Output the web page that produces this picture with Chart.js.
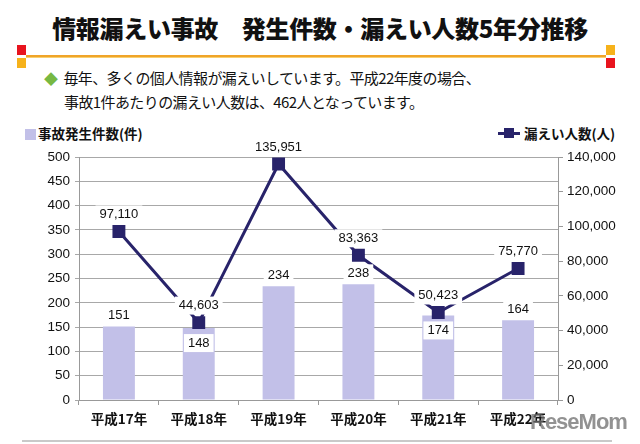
<!DOCTYPE html>
<html lang="ja">
<head>
<meta charset="UTF-8">
<title>情報漏えい事故 発生件数・漏えい人数5年分推移</title>
<script src="https://cdn.jsdelivr.net/npm/chart.js@4.4.0/dist/chart.umd.min.js"></script>
<style>
    body { margin: 0; width: 640px; height: 444px; background: #fff; position: relative; overflow: hidden;
           font-family: "Noto Sans CJK JP", "Liberation Sans", sans-serif; color: #111; }
    .title { position: absolute; left: 0; width: 640px; top: 12px; text-align: center; font-size: 24px;
             font-weight: 900; line-height: 32px; letter-spacing: -0.3px; }
    .deco { position: absolute; }
    .sq { position: absolute; width: 9px; height: 10px; }
    .lead { position: absolute; left: 44px; top: 66px; font-size: 15px; line-height: 24px; letter-spacing: -0.6px; }
    .lead .dia { color: #77b843; font-size: 14px; margin-right: 6px; }
    .lead .l2 { padding-left: 20px; }
    .legend { position: absolute; top: 124px; font-size: 13.5px; font-weight: bold; line-height: 18px; }
    .legend .box { display: inline-block; width: 11px; height: 11px; background: #c2c0e8; vertical-align: -1px; margin-right: 2px; }
    .legend .ln { display: inline-block; position: relative; width: 22px; height: 3px; background: #28236a; vertical-align: 4px; margin-right: 4px; }
    .legend .ln i { position: absolute; left: 6px; top: -4px; width: 10px; height: 10px; background: #28236a; }
    #wrap { position: absolute; left: 0; top: 120px; width: 640px; height: 324px; }
    .bottom { position: absolute; left: 22px; width: 590px; top: 440px; height: 2px; background: #c9c9c9; }
    .mark { position: absolute; left: 530px; top: 409px; font-family: "Liberation Sans", sans-serif; font-weight: bold;
            font-size: 22px; color: rgba(110,110,110,0.75); letter-spacing: -1px; }
</style>
</head>
<body>
<div class="title">情報漏えい事故　発生件数・漏えい人数5年分推移</div>
<div class="sq" style="left:17px;top:45px;background:#e8141e"></div>
<div class="sq" style="left:17px;top:58px;background:#f6b21b"></div>
<div class="sq" style="left:606px;top:45px;background:#f6b21b"></div>
<div class="sq" style="left:606px;top:58px;background:#e8141e"></div>
<div class="deco" style="left:26px;top:55px;width:580px;height:2px;background:#f0a428"></div>
<div class="deco" style="left:26px;top:57px;width:580px;height:1px;background:#f8d070"></div>
<div class="lead">
    <div><span class="dia">◆</span>毎年、多くの個人情報が漏えいしています。平成22年度の場合、</div>
    <div class="l2">事故1件あたりの漏えい人数は、462人となっています。</div>
</div>
<div class="legend" style="left:25px"><span class="box"></span>事故発生件数(件)</div>
<div class="legend" style="left:498px"><span class="ln"><i></i></span>漏えい人数(人)</div>
<div id="wrap"><canvas id="chart" width="640" height="324"></canvas></div>
<div class="bottom"></div>
<div class="mark">ReseMom</div>

<script>
    // データ
    const years = ['平成17年', '平成18年', '平成19年', '平成20年', '平成21年', '平成22年'];
    const incidents = [151, 148, 234, 238, 174, 164];
    const leakedPeople = [97110, 44603, 135951, 83363, 50423, 75770];
    const leftTicks = [0, 50, 100, 150, 200, 250, 300, 350, 400, 450, 500];
    const rightTicks = [0, 20000, 40000, 60000, 80000, 100000, 120000, 140000];

    const barColor = '#c2c0e8';
    const lineColor = '#28236a';
    const numFont = '"Liberation Sans", "Noto Sans CJK JP", sans-serif';

    function fmt(v) { return v.toLocaleString('en-US'); }

    // ラベル描画 (白い背景つき)
    function drawLabel(ctx, text, x, y) {
        ctx.font = '13px ' + numFont;
        const w = ctx.measureText(text).width;
        ctx.fillStyle = '#fff';
        ctx.fillRect(x - w / 2 - 4, y - 9, w + 8, 18);
        ctx.fillStyle = '#111';
        ctx.textAlign = 'center';
        ctx.textBaseline = 'middle';
        ctx.fillText(text, x, y);
    }

    const labelPlugin = {
        id: 'labels',
        afterDatasetsDraw(chart) {
            const ctx = chart.ctx;
            const barMeta = chart.getDatasetMeta(1);
            const lineMeta = chart.getDatasetMeta(0);
            ctx.save();
            lineMeta.data.forEach((pt, i) => {
                drawLabel(ctx, fmt(leakedPeople[i]), pt.x, pt.y - 17);
            });
            barMeta.data.forEach((bar, i) => {
                const pt = lineMeta.data[i];
                // 折れ線のマーカーと重なる場合は下に置く
                const below = Math.abs(pt.y - bar.y) < 20;
                drawLabel(ctx, String(incidents[i]), bar.x, below ? bar.y + 15 : bar.y - 11);
            });
            ctx.restore();
        }
    };

    new Chart(document.getElementById('chart'), {
        data: {
            labels: years,
            datasets: [{
                type: 'line',
                label: '漏えい人数(人)',
                data: leakedPeople,
                yAxisID: 'y1',
                borderColor: lineColor,
                backgroundColor: lineColor,
                borderWidth: 3,
                pointStyle: 'rect',
                pointRadius: 7,
                tension: 0,
                order: 0
            }, {
                type: 'bar',
                label: '事故発生件数(件)',
                data: incidents,
                yAxisID: 'y',
                backgroundColor: barColor,
                categoryPercentage: 0.8,
                barPercentage: 0.5,
                order: 1
            }]
        },
        options: {
            responsive: false,
            animation: false,
            layout: { padding: { top: 37, left: 0, right: 0, bottom: 0 } },
            plugins: { legend: { display: false }, tooltip: { enabled: false } },
            scales: {
                x: {
                    afterFit(s) { s.height = 44; },
                    grid: { drawOnChartArea: false, tickLength: 5, color: '#999' },
                    border: { color: '#999' },
                    ticks: { color: '#111', padding: 6, font: { family: '"Noto Sans CJK JP", sans-serif', size: 13.5, weight: 'bold' } }
                },
                y: {
                    position: 'left',
                    min: 0, max: 500,
                    afterFit(s) { s.width = 79; },
                    afterBuildTicks(s) { s.ticks = leftTicks.map(v => ({ value: v })); },
                    grid: { color: '#a8a8a8', tickLength: 4 },
                    border: { color: '#999' },
                    ticks: { color: '#111', padding: 5, font: { family: numFont, size: 13.5 } }
                },
                y1: {
                    position: 'right',
                    min: 0, max: 140000,
                    afterFit(s) { s.width = 82; },
                    afterBuildTicks(s) { s.ticks = rightTicks.map(v => ({ value: v })); },
                    grid: { drawOnChartArea: false, color: '#999', tickLength: 5 },
                    border: { color: '#999' },
                    ticks: { color: '#111', padding: 4, callback: v => fmt(v), font: { family: numFont, size: 13.5 } }
                }
            }
        },
        plugins: [labelPlugin]
    });
</script>
</body>
</html>
